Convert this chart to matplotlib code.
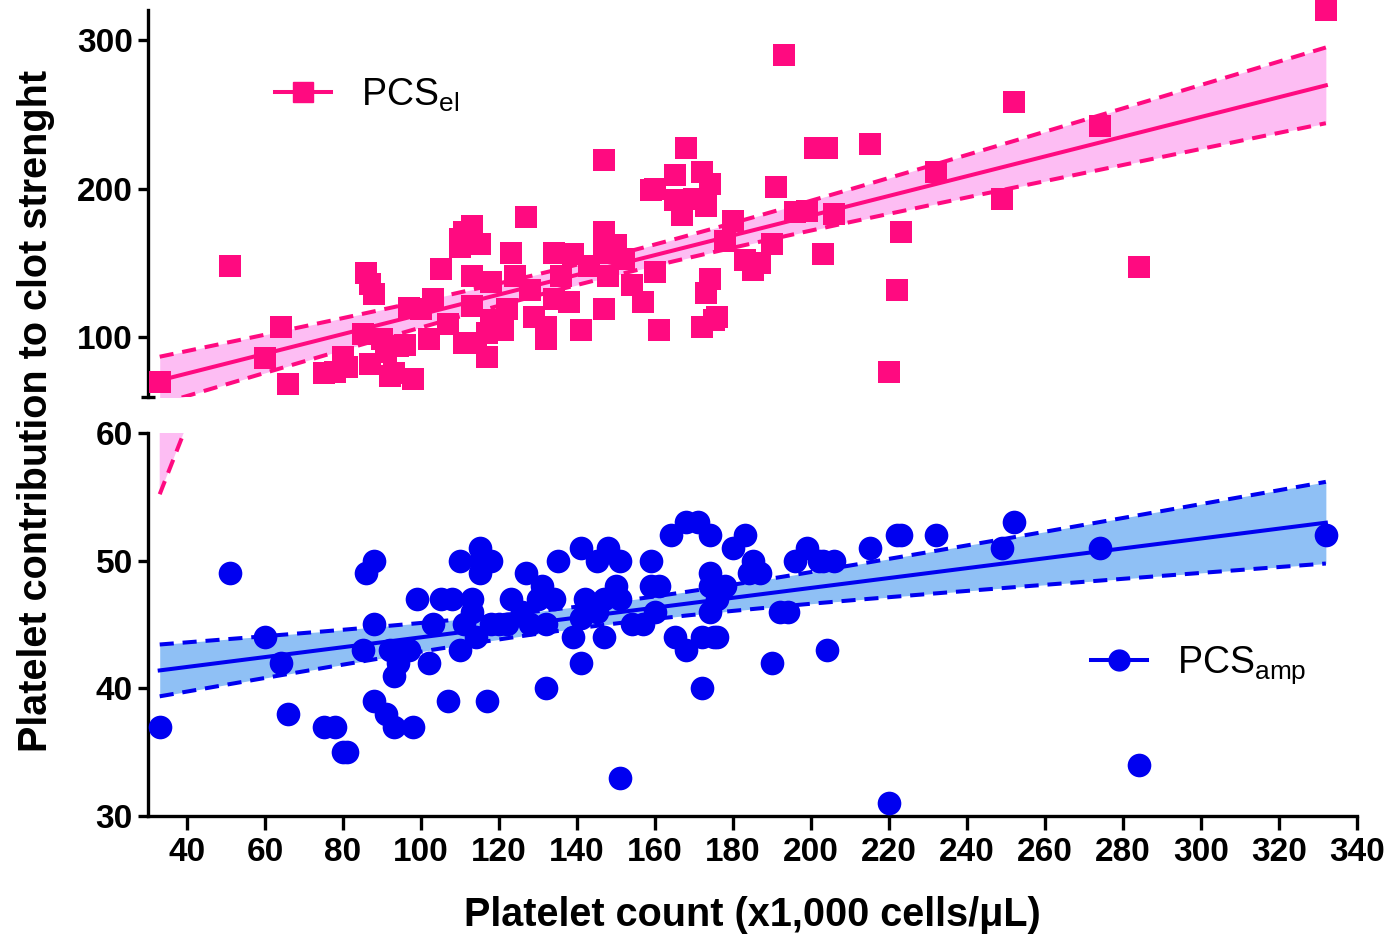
import numpy as np
import matplotlib
matplotlib.use('Agg')
import matplotlib.pyplot as plt
from matplotlib.lines import Line2D

plt.rcParams['font.family'] = ['Liberation Sans', 'DejaVu Sans']

# platelet count (x1,000 cells/uL) and PCS elasticity
count_el = [33, 51, 60, 64, 66, 75, 78, 80, 81, 80, 85, 86, 87, 88, 87, 90, 91, 92, 93, 94,
            96, 97, 98, 100, 102, 103, 105, 107, 110, 110, 111, 113, 111, 113, 113, 114, 115, 117, 117, 118,
            118, 121, 122, 123, 124, 127, 128, 129, 132, 132, 134, 134, 136, 138, 139, 141, 143, 147, 147, 147,
            147, 148, 150, 152, 154, 157, 159, 160, 160, 161, 165, 165, 167, 168, 170, 172, 172, 173, 173, 174,
            174, 175, 176, 178, 180, 183, 185, 187, 190, 191, 193, 196, 199, 201, 203, 204, 206, 215, 220, 222,
            223, 232, 249, 252, 274, 284, 332]
pcs_el = [70, 148, 86, 107, 69, 76, 77, 80, 80, 87, 102, 143, 136, 129, 82, 99, 90, 74, 76, 94,
          95, 120, 72, 119, 99, 126, 146, 109, 161, 166, 171, 175, 96, 121, 141, 96, 163, 87, 103, 112,
          137, 105, 119, 157, 141, 181, 132, 114, 99, 107, 126, 157, 141, 124, 156, 105, 148, 219, 171, 157,
          119, 141, 162, 153, 135, 124, 199, 144, 200, 105, 209, 192, 182, 227, 193, 211, 107, 188, 130, 203,
          139, 112, 114, 165, 178, 152, 145, 150, 163, 201, 290, 184, 185, 227, 156, 227, 183, 230, 77, 132,
          171, 211, 193, 258, 242, 147, 320]

# platelet count and PCS amplitude
count_amp = [33, 51, 60, 64, 66, 75, 78, 80, 81, 85, 86, 88, 88, 88, 91, 92, 93, 93, 94, 95,
             97, 98, 99, 102, 103, 105, 107, 108, 110, 110, 111, 113, 113, 114, 115, 115, 115, 117, 118, 118,
             120, 122, 123, 126, 127, 128, 130, 131, 132, 132, 134, 135, 139, 141, 141, 141, 142, 145, 145, 147,
             147, 148, 150, 151, 151, 151, 154, 157, 159, 159, 160, 161, 164, 165, 168, 168, 171, 172, 172, 174,
             174, 174, 174, 175, 176, 176, 178, 180, 183, 184, 185, 187, 190, 192, 194, 196, 199, 202, 203, 204,
             206, 215, 220, 222, 223, 232, 249, 252, 274, 284, 332]
pcs_amp = [37, 49, 44, 42, 38, 37, 37, 35, 35, 43, 49, 50, 45, 39, 38, 43, 41, 37, 42, 43,
           43, 37, 47, 42, 45, 47, 39, 47, 50, 43, 45, 47, 46, 44, 51, 49, 50, 39, 50, 45,
           45, 45, 47, 46, 49, 45, 47, 48, 45, 40, 47, 50, 44, 51, 45.5, 42, 47, 50, 46, 47,
           44, 51, 48, 50, 47, 33, 45, 45, 50, 48, 46, 48, 52, 44, 53, 43, 53, 44, 40, 52,
           49, 48, 46, 44, 47, 44, 48, 51, 52, 49, 50, 49, 42, 46, 46, 50, 51, 50, 50, 43,
           50, 51, 31, 52, 52, 52, 51, 53, 51, 34, 52]

PINK = '#ff0a80'
PINK_FILL = '#fdbdf3'
BLUE = '#0000f0'
BLUE_FILL = '#8fc0f5'


def fit_band(x, y, xs):
    x = np.asarray(x, float)
    y = np.asarray(y, float)
    slope, icpt = np.polyfit(x, y, 1)
    n = len(x)
    resid = y - (slope * x + icpt)
    s = np.sqrt(np.sum(resid ** 2) / (n - 2))
    sxx = np.sum((x - x.mean()) ** 2)
    yhat = slope * xs + icpt
    half = 1.98 * s * np.sqrt(1.0 / n + (xs - x.mean()) ** 2 / sxx)
    return yhat, yhat - half, yhat + half


def draw_fit(ax, x, y, color, fill):
    xs = np.linspace(min(x), max(x), 200)
    yhat, lo, hi = fit_band(x, y, xs)
    ax.fill_between(xs, lo, hi, color=fill, lw=0, zorder=1)
    ax.plot(xs, yhat, color=color, lw=2.9, zorder=2)
    for c in (lo, hi):
        ax.plot(xs, c, color=color, lw=2.9, dashes=(3.5, 2.2), zorder=2)


fig = plt.figure(figsize=(13.95, 9.4), dpi=100)
ax_top = fig.add_axes([0.1061, 0.5777, 0.8667, 0.4117])
ax_bot = fig.add_axes([0.1061, 0.1319, 0.8667, 0.4075])

# top segment: elasticity
draw_fit(ax_top, count_el, pcs_el, PINK, PINK_FILL)
ax_top.scatter(count_el, pcs_el, marker='s', s=270, color=PINK, lw=0, zorder=3, clip_on=False)
ax_top.set_xlim(30, 340)
ax_top.set_ylim(60, 320)
ax_top.set_yticks([100, 200, 300])
ax_top.set_yticks([60], minor=True)
ax_top.tick_params(axis='y', which='minor', length=10, width=2.4, direction='inout')
ax_top.xaxis.set_visible(False)
for side in ('top', 'right', 'bottom'):
    ax_top.spines[side].set_visible(False)

# bottom segment: amplitude (the elasticity band is drawn too so it shows where it dips below 60)
draw_fit(ax_bot, count_el, pcs_el, PINK, PINK_FILL)
draw_fit(ax_bot, count_amp, pcs_amp, BLUE, BLUE_FILL)
ax_bot.scatter(count_amp, pcs_amp, marker='o', s=290, color=BLUE, lw=0, zorder=3)
ax_bot.set_xlim(30, 340)
ax_bot.set_ylim(30, 60)
ax_bot.set_yticks([30, 40, 50, 60])
ax_bot.set_xticks(np.arange(40, 341, 20))
for side in ('top', 'right'):
    ax_bot.spines[side].set_visible(False)

for ax in (ax_top, ax_bot):
    ax.patch.set_alpha(0)
    ax.spines['left'].set_linewidth(2.4)
    ax.spines['bottom'].set_linewidth(2.4)
    ax.tick_params(axis='y', which='major', length=7, width=2.4, pad=4, labelsize=24)
    ax.tick_params(axis='x', length=10, width=2.4, pad=5, labelsize=24)
    for lab in ax.get_xticklabels() + ax.get_yticklabels():
        lab.set_fontweight('bold')

# legends
h_el = Line2D([], [], color=PINK, lw=2.9, marker='s', markersize=15)
ax_top.legend([h_el], ['PCS$_\\mathregular{el}$'], loc='center left',
              bbox_to_anchor=(0.105, 0.78), frameon=False, fontsize=27,
              handlelength=1.5, handletextpad=0.8, borderpad=0, borderaxespad=0)
h_amp = Line2D([], [], color=BLUE, lw=2.9, marker='o', markersize=15)
ax_bot.legend([h_amp], ['PCS$_\\mathregular{amp}$'], loc='center left',
              bbox_to_anchor=(0.78, 0.394), frameon=False, fontsize=27,
              handlelength=1.5, handletextpad=0.8, borderpad=0, borderaxespad=0)

fig.text(0.026, 0.563, 'Platelet contribution to clot strenght', rotation=90,
         ha='center', va='center', fontsize=28.5, fontweight='bold')
fig.text(0.539, 0.027, 'Platelet count (x1,000 cells/\u03bcL)', ha='center', va='center',
         fontsize=28.5, fontweight='bold')

fig.savefig('out.png', dpi=100)
